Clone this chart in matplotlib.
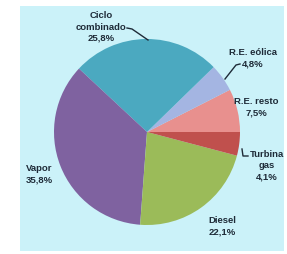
import matplotlib
matplotlib.use('Agg')
import matplotlib.pyplot as plt
from matplotlib.patches import Rectangle

# Data (counterclockwise from 3 o'clock)
labels = ['R.E. resto', 'R.E. eólica', 'Ciclo\ncombinado', 'Vapor', 'Diesel', 'Turbina\ngas']
shares = [7.5, 4.8, 25.8, 35.8, 22.1, 4.1]
colors = ['#E8908E', '#A4B5E2', '#4BA9C0', '#7F62A0', '#9BBB59', '#C0504D']

W, H = 287, 255
fig = plt.figure(figsize=(W / 100, H / 100), dpi=100)
fig.patch.set_facecolor('white')

# light cyan panel behind the pie
fig.patches.append(Rectangle((20 / W, 3 / H), 264 / W, 245 / H, transform=fig.transFigure,
                             facecolor='#CBF2F9', edgecolor='none', zorder=-5))

def px(x, y):
    # pixel position -> figure fraction
    return x / W, 1 - y / H

ax = fig.add_axes([54 / W, 1 - 226 / H, 186 / W, 186 / H])
ax.set_zorder(2)
ax.set_facecolor('none')
ax.pie(shares, colors=colors, startangle=0, counterclock=True, radius=1,
       wedgeprops=dict(linewidth=0))
ax.set_xlim(-1, 1)
ax.set_ylim(-1, 1)

# label text centers (pixels)
label_pos = [(256, 107), (253, 58), (101, 27), (39, 174), (222, 226), (267, 166)]
txt_style = dict(ha='center', va='center', fontsize=6.8, fontweight='bold',
                 color='#1E2B38', family='Liberation Sans', linespacing=1.35, zorder=5)
for lab, val, (x, y) in zip(labels, shares, label_pos):
    s = lab + '\n' + f"{val:.1f}".replace('.', ',') + '%'
    fig.text(*px(x, y), s, **txt_style)

# leader lines
line_style = dict(color='#1E2B38', linewidth=1.0, transform=fig.transFigure, zorder=5)
for pts in [[(127, 29), (132, 30), (148, 41)],
            [(240, 65), (236, 66), (225, 80)],
            [(242, 150), (243, 157), (248, 157)]]:
    xs, ys = zip(*[px(x, y) for x, y in pts])
    fig.lines.append(plt.Line2D(xs, ys, **line_style))

fig.savefig('out.png', dpi=100, facecolor=fig.get_facecolor())
